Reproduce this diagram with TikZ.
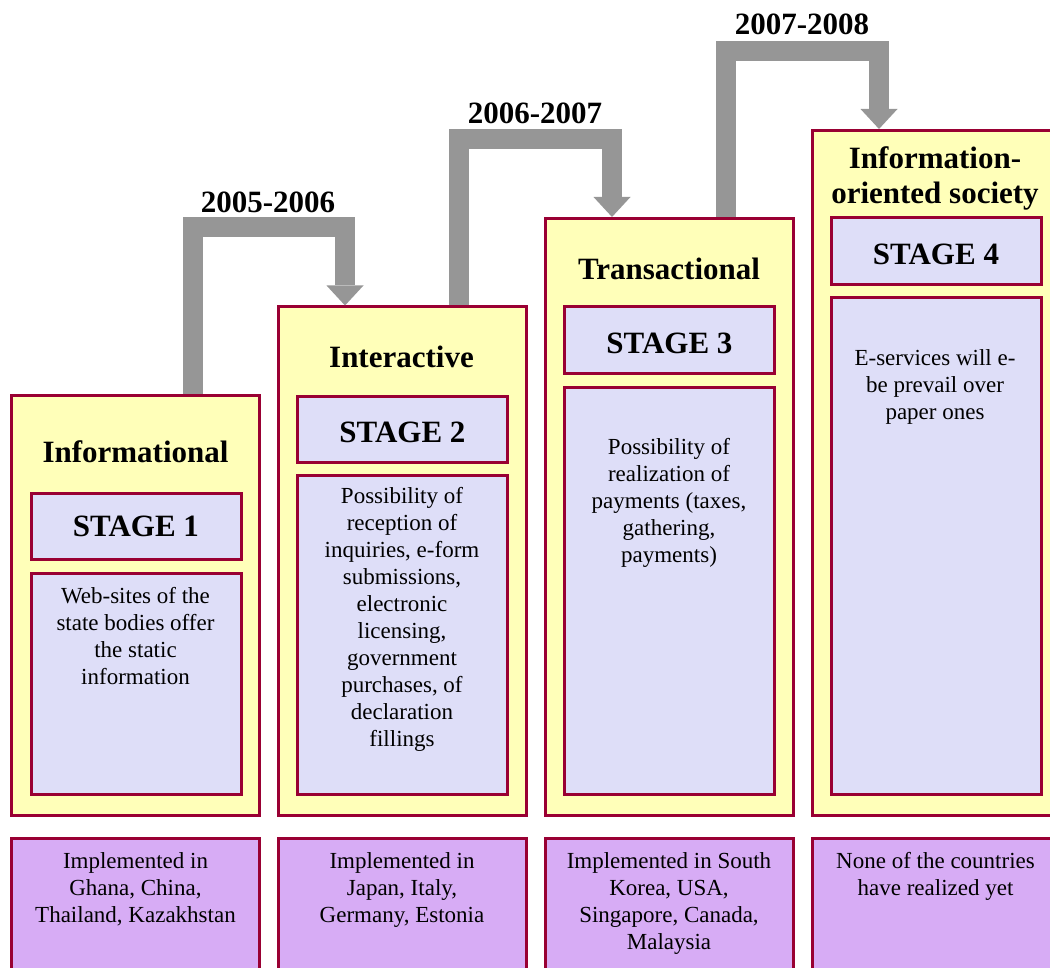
\documentclass[tikz,border=0pt]{standalone}
\usepackage{fontspec}
\setmainfont{Liberation Serif}
\usetikzlibrary{arrows.meta}
\definecolor{frame}{RGB}{153,0,51}
\definecolor{colfill}{RGB}{255,255,185}
\definecolor{stagefill}{RGB}{222,222,248}
\definecolor{countryfill}{RGB}{215,172,245}
\definecolor{flowgray}{RGB}{150,150,150}
\begin{document}
\begin{tikzpicture}[x=1pt,y=-1pt,
  panel/.style={draw=frame, line width=3pt, rectangle, inner sep=0pt, outer sep=0pt,
    anchor=north west, minimum width=248pt},
  column/.style={panel, fill=colfill},
  stagebox/.style={panel, fill=stagefill, minimum width=210pt, minimum height=66.5pt,
    font=\fontsize{31}{35}\selectfont\bfseries, text depth=0pt},
  notebox/.style={panel, fill=stagefill, minimum width=210pt},
  countrybox/.style={panel, fill=countryfill, minimum height=150pt},
  heading/.style={anchor=base, inner sep=0pt, font=\fontsize{31}{35}\selectfont\bfseries},
  bodytext/.style={anchor=north, inner sep=0pt, align=center, font=\fontsize{23}{27}\selectfont},
  flow/.style={draw=flowgray, line width=20pt, line join=miter,
    -{Triangle[width=37pt,length=20pt,line width=0pt]}}
]
\useasboundingbox (0,0) rectangle (1050,968);
\clip (0,0) rectangle (1050,968);

% turning points of the elbow connectors
\coordinate (bar1) at (268,227);
\coordinate (bar2) at (535,139);
\coordinate (bar3) at (801,51);

% stage columns (outer frames)
\node[column, minimum height=419.5pt] (col1) at (11.5,395.5) {};
\node[column, minimum height=508pt]   (col2) at (278,307) {};
\node[column, minimum height=596.5pt] (col3) at (545,218.5) {};
\node[column, minimum height=684.5pt] (col4) at (812.5,130.5) {};

% elbow connectors: each leaves the top of one column and points at the next
\draw[flow] ([xshift=57pt,yshift=1.5pt]col1.north) |- (bar1) -| ([xshift=-57pt,yshift=1.5pt]col2.north);
\draw[flow] ([xshift=57pt,yshift=1.5pt]col2.north) |- (bar2) -| ([xshift=-57pt,yshift=1.5pt]col3.north);
\draw[flow] ([xshift=57pt,yshift=1.5pt]col3.north) |- (bar3) -| ([xshift=-57.5pt,yshift=1.5pt]col4.north);

% period labels
\node[heading] (y1) at (268,213) {2005-2006};
\node[heading] (y2) at (535,124) {2006-2007};
\node[heading] (y3) at (802,35)  {2007-2008};

% column headings
\node[heading] (t1) at (135.5,462) {Informational};
\node[heading] (t2) at (401.5,368) {Interactive};
\node[heading] (t3) at (669,280)   {Transactional};
\node[anchor=north, inner sep=0pt, align=center,
      font=\fontsize{31}{35}\selectfont\bfseries] (t4) at (935,146)
      {Information-\\oriented society};

% stage boxes
\node[stagebox, text height=21pt] (s1) at (31,493)    {STAGE 1};
\node[stagebox, text height=27pt] (s2) at (297.5,396) {STAGE 2};
\node[stagebox, text height=27pt] (s3) at (564.5,307) {STAGE 3};
\node[stagebox, text height=27pt] (s4) at (831,218)   {STAGE 4};

% description boxes
\node[notebox, minimum height=221pt] (d1) at (31,573)    {};
\node[notebox, minimum height=319pt] (d2) at (297.5,475) {};
\node[notebox, minimum height=406pt] (d3) at (564.5,388) {};
\node[notebox, minimum height=496pt] (d4) at (831,298)   {};

\node[bodytext] (dt1) at (135.5,587) {Web-sites of the\\state bodies offer\\the static\\information};
\node[bodytext] (dt2) at (402,487.5) {Possibility of\\reception of\\inquiries, e-form\\submissions,\\electronic\\licensing,\\government\\purchases, of\\declaration\\fillings};
\node[bodytext] (dt3) at (669,438) {Possibility of\\realization of\\payments (taxes,\\gathering,\\payments)};
\node[bodytext] (dt4) at (935,349) {E-services will e-\\be prevail over\\paper ones};

% implementation boxes
\node[countrybox] (c1) at (11.5,838.5) {};
\node[countrybox] (c2) at (278,838.5)  {};
\node[countrybox] (c3) at (545,838.5)  {};
\node[countrybox] (c4) at (812.5,838.5) {};

\node[bodytext] (ct1) at (135.5,852) {Implemented in\\Ghana, China,\\Thailand, Kazakhstan};
\node[bodytext] (ct2) at (402,852)   {Implemented in\\Japan, Italy,\\Germany, Estonia};
\node[bodytext] (ct3) at (669,852)   {Implemented in South\\Korea, USA,\\Singapore, Canada,\\Malaysia};
\node[bodytext] (ct4) at (935.5,852) {None of the countries\\have realized yet};
\end{tikzpicture}
\end{document}
